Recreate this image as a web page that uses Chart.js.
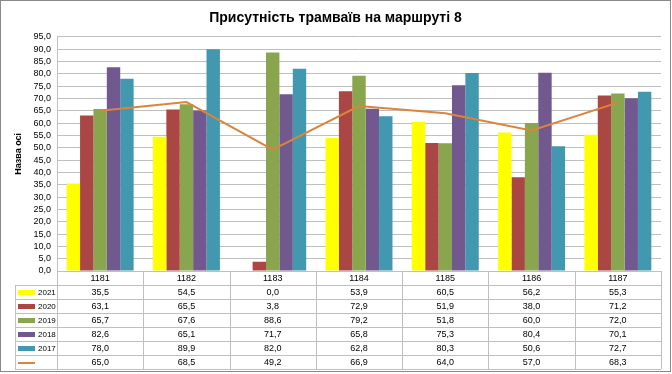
<!DOCTYPE html>
<html>
<head>
<meta charset="utf-8">
<script src="https://cdn.jsdelivr.net/npm/chart.js@4"></script>
<style>
  html, body { margin: 0; padding: 0; background: #fff; }
  #wrap { width: 672px; height: 374px; }
</style>
</head>
<body>
<div id="wrap"><canvas id="tramChart" width="672" height="374"></canvas></div>
<script>
const categories = ['1181', '1182', '1183', '1184', '1185', '1186', '1187'];
const years = ['2021', '2020', '2019', '2018', '2017'];
const values2021 = [35.5, 54.5, 0.0, 53.9, 60.5, 56.2, 55.3];
const values2020 = [63.1, 65.5, 3.8, 72.9, 51.9, 38.0, 71.2];
const values2019 = [65.7, 67.6, 88.6, 79.2, 51.8, 60.0, 72.0];
const values2018 = [82.6, 65.1, 71.7, 65.8, 75.3, 80.4, 70.1];
const values2017 = [78.0, 89.9, 82.0, 62.8, 80.3, 50.6, 72.7];
const averages = [65.0, 68.5, 49.2, 66.9, 64.0, 57.0, 68.3];
const barColors = ['#FFFF00', '#AA4643', '#89A54E', '#71588F', '#4198AF'];
const lineColor = '#DB843D';

const fmt = v => v.toFixed(1).replace('.', ',');
const FONT = "'Liberation Sans', Arial, sans-serif";

// data table under the plot, drawn from the x scale positions
const dataTable = {
    id: 'dataTable',
    beforeDraw(chart) {
        const c = chart.ctx;
        c.save();
        c.fillStyle = '#fff';
        c.fillRect(0, 0, chart.width, chart.height);
        c.restore();
    },
    afterDraw(chart) {
        const c = chart.ctx;
        const area = chart.chartArea;
        const x = chart.scales.x;
        const n = categories.length;
        const cw = (area.right - area.left) / n;
        const rowH = 14;
        const top = area.bottom;
        const rows = chart.data.datasets.length;
        const bottom = top + rowH * (rows + 1);
        const keyLeft = 15;

        c.save();
        c.strokeStyle = '#BFBFBF';
        c.lineWidth = 1;
        c.beginPath();
        // horizontal lines
        c.moveTo(area.left, top + 0.5);
        c.lineTo(area.right, top + 0.5);
        for (let r = 1; r <= rows + 1; r++) {
            const y = Math.round(top + r * rowH) + 0.5;
            c.moveTo(keyLeft, y);
            c.lineTo(area.right, y);
        }
        // vertical lines
        for (let i = 0; i <= n; i++) {
            const xx = Math.round(area.left + i * cw) + 0.5;
            c.moveTo(xx, top);
            c.lineTo(xx, bottom);
        }
        c.moveTo(keyLeft + 0.5, top + rowH);
        c.lineTo(keyLeft + 0.5, bottom);
        c.stroke();

        c.font = '9px ' + FONT;
        c.fillStyle = '#000';
        c.textBaseline = 'middle';
        c.textAlign = 'center';
        categories.forEach((cat, i) => {
            c.fillText(cat, x.getPixelForValue(i), top + rowH / 2 + 1);
        });

        chart.data.datasets.forEach((ds, r) => {
            const cy = top + (r + 1) * rowH + rowH / 2 + 1;
            if (ds.type === 'line') {
                c.strokeStyle = ds.borderColor;
                c.lineWidth = 2;
                c.beginPath();
                c.moveTo(18, cy);
                c.lineTo(35, cy);
                c.stroke();
            } else {
                c.fillStyle = ds.backgroundColor;
                c.fillRect(18, cy - 3, 17, 5);
            }
            c.fillStyle = '#000';
            c.textAlign = 'left';
            c.font = '8px ' + FONT;
            c.fillText(ds.label, 38, cy);
            c.font = '9px ' + FONT;
            c.textAlign = 'center';
            ds.data.forEach((v, i) => {
                c.fillText(fmt(v), x.getPixelForValue(i), cy);
            });
        });

        // outer frame
        c.strokeStyle = '#898989';
        c.lineWidth = 1;
        c.strokeRect(0.5, 0.5, chart.width - 2, chart.height - 3);
        c.restore();
    }
};

const barSets = [values2021, values2020, values2019, values2018, values2017].map((d, i) => ({
    type: 'bar',
    label: years[i],
    data: d,
    backgroundColor: barColors[i],
    borderWidth: 0,
    order: 1
}));

new Chart(document.getElementById('tramChart'), {
    data: {
        labels: categories,
        datasets: [...barSets, {
            type: 'line',
            label: '',
            data: averages,
            borderColor: lineColor,
            borderWidth: 2,
            pointRadius: 0,
            fill: false,
            order: 0
        }]
    },
    options: {
        responsive: false,
        animation: false,
        layout: { padding: { left: 10, right: 11, top: 0, bottom: 0 } },
        datasets: { bar: { categoryPercentage: 0.776, barPercentage: 1 } },
        scales: {
            x: {
                ticks: { display: false },
                grid: { display: false, drawTicks: false },
                border: { display: false },
                afterFit(s) { s.height = 103; }
            },
            y: {
                min: 0,
                max: 95,
                ticks: {
                    stepSize: 5,
                    autoSkip: false,
                    padding: 6,
                    color: '#000',
                    font: { family: FONT, size: 9 },
                    callback: v => fmt(v)
                },
                grid: { color: '#BFBFBF', drawTicks: false },
                border: { display: true, color: '#BFBFBF' },
                title: {
                    display: true,
                    text: 'Назва осі',
                    color: '#000',
                    font: { family: FONT, size: 9, weight: 'bold' },
                    padding: { top: 3, bottom: 0 }
                },
                afterFit(s) { s.width = 47; }
            }
        },
        plugins: {
            legend: { display: false },
            tooltip: { enabled: false },
            title: {
                display: true,
                text: 'Присутність трамваїв на маршруті 8',
                color: '#000',
                font: { family: FONT, size: 14, weight: 'bold' },
                padding: { top: 10, bottom: 10 }
            }
        }
    },
    plugins: [dataTable]
});
</script>
</body>
</html>
